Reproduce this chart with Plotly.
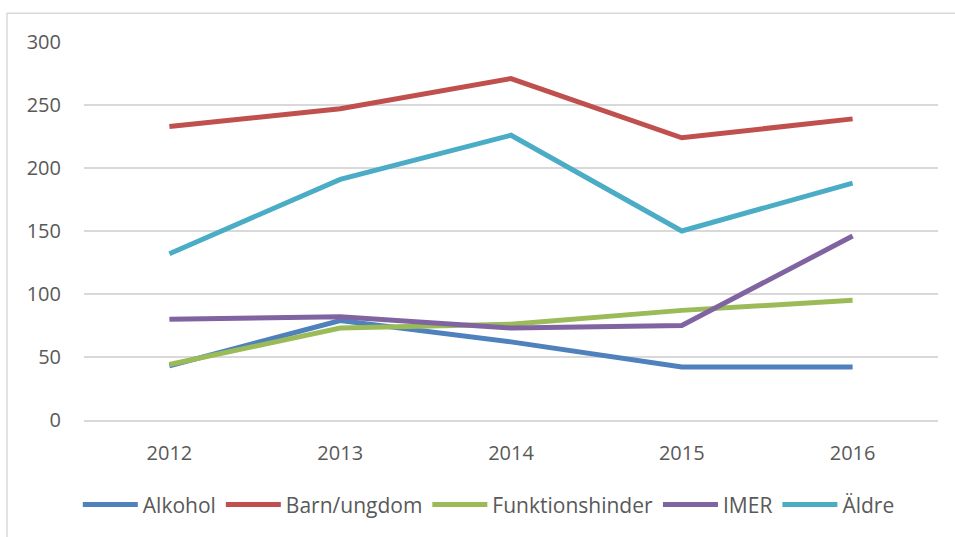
import plotly.graph_objects as go

years = ["2012", "2013", "2014", "2015", "2016"]
alkohol = [43, 79, 62, 42, 42]
barn_ungdom = [233, 247, 271, 224, 239]
funktionshinder = [44, 73, 76, 87, 95]
imer = [80, 82, 73, 75, 146]
aldre = [132, 191, 226, 150, 188]

series_names = ["Alkohol", "Barn/ungdom", "Funktionshinder", "IMER", "Äldre"]
series_values = [alkohol, barn_ungdom, funktionshinder, imer, aldre]
colors = ["#4F81BD", "#C0504D", "#9BBB59", "#8064A2", "#4BACC6"]

fig = go.Figure()
for name, vals, c in zip(series_names, series_values, colors):
    fig.add_trace(go.Scatter(x=years, y=vals, name=name, mode="lines",
                             line=dict(color=c, width=5)))

W, H = 955, 537
l, r, t, b = 84, 17, 42, 115
pw, ph = W - l - r, H - t - b

def px_to_paper_x(px):
    return (px - l) / pw

def px_to_paper_y(py):
    return (H - b - py) / ph

fig.add_shape(type="rect", xref="paper", yref="paper",
              x0=px_to_paper_x(7), x1=px_to_paper_x(965),
              y0=px_to_paper_y(550), y1=px_to_paper_y(13),
              line=dict(color="#D9D9D9", width=1.5), fillcolor="rgba(0,0,0,0)",
              layer="below")

font = "Open Sans, Liberation Sans, Arial"
fig.update_layout(
    width=W, height=H,
    margin=dict(l=l, r=r, t=t, b=b),
    paper_bgcolor="white", plot_bgcolor="white",
    font=dict(family=font, size=20, color="#595959"),
    xaxis=dict(type="category", range=[-0.5, 4.5], showgrid=False,
               showline=True, linecolor="#D9D9D9", linewidth=1.5,
               ticks="", ticklabelstandoff=14,
               tickfont=dict(size=20, color="#595959")),
    yaxis=dict(range=[0, 300], dtick=50, showgrid=True, gridcolor="#D9D9D9",
               gridwidth=1.5, zeroline=False, showline=False, ticks="",
               ticklabelstandoff=22,
               tickfont=dict(size=20, color="#595959")),
    legend=dict(orientation="h", x=0.474, xanchor="center", y=-0.17,
                yanchor="top", font=dict(size=21, color="#595959"),
                itemwidth=55, tracegroupgap=0),
    showlegend=True,
)

fig.write_html("out.html", config={"displayModeBar": False},
               post_script="document.body.style.margin='0';")
